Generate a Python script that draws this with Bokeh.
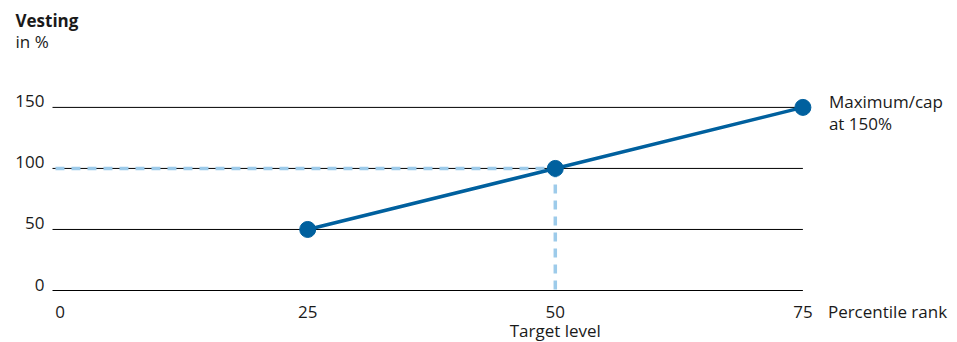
from bokeh.plotting import figure
from bokeh.models import Range1d
from bokeh.core.properties import value
from bokeh.embed import file_html
from bokeh.resources import INLINE

# ---- data ----
percentile = [25, 50, 75]
vesting = [50, 100, 150]
y_ticks = [0, 50, 100, 150]
y_tick_labels = ["0", "50", "100", "150"]
x_ticks = [0, 25, 50, 75]
x_tick_labels = ["0", "25", "50", "75"]
target_x = 50
target_y = 100
target_label = "Target level"
x_axis_title = "Percentile rank"
y_title = "Vesting"
y_unit = "in %"
cap_label = ["Maximum/cap", "at 150%"]

# ---- layout ----
W, H = 957, 342
X0, XS = 59.6, 9.904      # px of x=0, px per unit
Y0, YS = 290.0, 1.2207    # px of y=0, px per unit
x_start, x_end = -X0 / XS, (W - X0) / XS
y_start, y_end = (Y0 - H) / YS, Y0 / YS

def px_x(px):
    return x_start + px / XS

def px_y(py):
    return y_end - py / YS

FONT = value("Open Sans")
FS = "17px"
TXT = "#1a1a1a"
DARK = "#00609e"
LIGHT = "#9dcbea"
SH = -6  # baseline correction

p = figure(width=W, height=H, x_range=Range1d(x_start, x_end), y_range=Range1d(y_start, y_end),
           x_axis_type=None, y_axis_type=None, toolbar_location=None, output_backend="svg",
           min_border=0, min_border_left=0, min_border_right=0, min_border_top=0, min_border_bottom=0)
p.outline_line_color = None
p.background_fill_color = "white"
p.border_fill_color = "white"

grid_x0 = px_x(52)
grid_x1 = max(x_ticks)

# grid lines
p.segment(x0=[grid_x0] * len(y_ticks), y0=y_ticks, x1=[grid_x1] * len(y_ticks), y1=y_ticks,
          line_color="black", line_width=1)

# dashed target guides
p.line([grid_x0 + 0.3, target_x], [target_y, target_y], line_color=LIGHT, line_width=3.5,
       line_dash="9 7", line_cap="butt")
p.line([target_x, target_x], [target_y, 0], line_color=LIGHT, line_width=3.5,
       line_dash="9 7", line_cap="butt")

# main line and markers
p.line(percentile, vesting, line_color=DARK, line_width=3.5)
p.scatter(percentile, vesting, size=16, fill_color=DARK, line_color=DARK)

common = dict(text_font=FONT, text_font_size=FS, text_color=TXT, text_baseline="alphabetic")

# y tick labels
p.text(x=[grid_x0] * len(y_ticks), y=y_ticks, text=y_tick_labels, x_offset=-8, y_offset=SH,
       text_align="right", **common)

# x tick labels
p.text(x=x_ticks, y=[0] * len(x_ticks), text=x_tick_labels, y_offset=27 + SH,
       text_align="center", **common)

# axis title
p.text(x=[max(x_ticks)], y=[0], text=[x_axis_title], x_offset=25, y_offset=27 + SH,
       text_align="left", **common)

# target label
p.text(x=[target_x], y=[0], text=[target_label], y_offset=46 + SH,
       text_align="center", **common)

# cap label
p.text(x=[percentile[-1]] * 2, y=[vesting[-1]] * 2, text=cap_label, x_offset=26,
       y_offset=[0 + SH, 22 + SH], text_align="left", **common)

# title
p.text(x=[px_x(15)], y=[px_y(26)], text=[y_title], y_offset=SH, text_align="left",
       text_font_style="bold", **common)
p.text(x=[px_x(15)], y=[px_y(47)], text=[y_unit], y_offset=SH, text_align="left", **common)

open("out.html", "w").write(file_html(p, INLINE))
